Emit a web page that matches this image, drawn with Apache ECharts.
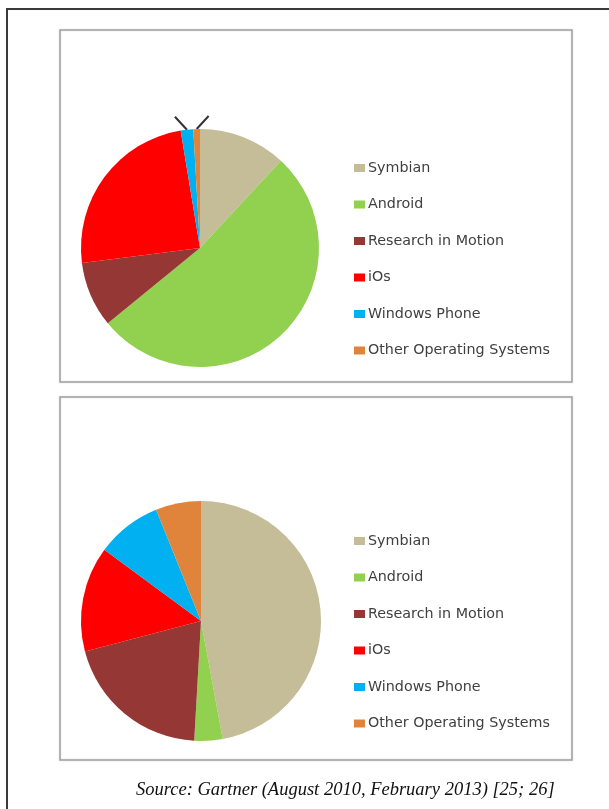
<!DOCTYPE html>
<html>
<head>
<meta charset="utf-8">
<script src="https://cdn.jsdelivr.net/npm/echarts@6/dist/echarts.min.js"></script>
<style>
  html, body { margin: 0; padding: 0; background: #fff; }
  #main { width: 609px; height: 809px; }
</style>
</head>
<body>
<div id="main"></div>
<script>
// categories, same order in both pies
var osNames = ['Symbian', 'Android', 'Research in Motion', 'iOs', 'Windows Phone', 'Other Operating Systems'];
var osColors = ['#c4bd97', '#92d050', '#953735', '#ff0000', '#00b0f0', '#e0843c'];

// shares (percent)
var topShares = [11.9, 52.2, 8.9, 24.4, 1.7, 0.9];
var bottomShares = [47.1, 3.8, 20.0, 14.2, 8.8, 6.1];

var sourceText = 'Source: Gartner (August 2010, February 2013) [25; 26]';

var chart = echarts.init(document.getElementById('main'), null, { renderer: 'canvas' });

function buildData(values, smallLines) {
  return values.map(function (v, i) {
    var item = { name: osNames[i], value: v };
    // the two tiny slices on top get a short leader line, no text
    if (smallLines && v < 2) {
      item.label = { show: true, formatter: ' ', position: 'outside' };
      item.labelLine = { show: true, length: 12, length2: 0, lineStyle: { color: '#333', width: 2 } };
    }
    return item;
  });
}

function legendFor(top) {
  return {
    orient: 'vertical',
    left: 349,
    top: top,
    itemWidth: 11,
    itemHeight: 8,
    itemGap: 22.5,
    icon: 'rect',
    selectedMode: false,
    data: osNames,
    textStyle: { color: '#404040', fontSize: 14.3, fontFamily: 'DejaVu Sans', padding: [0, 0, 0, -2] }
  };
}

var option = {
  animation: false,
  color: osColors,
  legend: [legendFor(156), legendFor(529)],
  title: {
    text: sourceText,
    left: 131,
    top: 776,
    textStyle: { fontFamily: 'Liberation Serif', fontStyle: 'italic', fontWeight: 'normal', fontSize: 18.5, color: '#111' }
  },
  graphic: [
    { type: 'rect', shape: { x: 7, y: 9, width: 640, height: 840 }, style: { fill: 'none', stroke: '#3a3a3a', lineWidth: 2 }, z: 0 },
    { type: 'rect', shape: { x: 60, y: 30, width: 512, height: 352 }, style: { fill: 'none', stroke: '#a0a0a0', lineWidth: 1.5, shadowBlur: 2, shadowColor: 'rgba(0,0,0,0.15)' }, z: 0 },
    { type: 'rect', shape: { x: 60, y: 397, width: 512, height: 363 }, style: { fill: 'none', stroke: '#a0a0a0', lineWidth: 1.5, shadowBlur: 2, shadowColor: 'rgba(0,0,0,0.15)' }, z: 0 }
  ],
  series: [
    {
      name: 'top',
      type: 'pie',
      center: [200, 248],
      radius: 119,
      startAngle: 90,
      clockwise: true,
      avoidLabelOverlap: false,
      label: { show: false },
      labelLine: { show: false },
      // bend the two leader lines outward like a V
      labelLayout: function (p) {
        if (!p.labelLinePoints) return {};
        var s = p.labelLinePoints[0];
        var dir = p.dataIndex === 4 ? -1 : 1;
        return {
          labelLinePoints: [[s[0], s[1]], [s[0] + dir * 6, s[1] - 6.5], [s[0] + dir * 12, s[1] - 13]]
        };
      },
      itemStyle: { borderWidth: 0 },
      emphasis: { disabled: true },
      data: buildData(topShares, true)
    },
    {
      name: 'bottom',
      type: 'pie',
      center: [201, 621],
      radius: 120,
      startAngle: 90,
      clockwise: true,
      label: { show: false },
      labelLine: { show: false },
      itemStyle: { borderWidth: 0 },
      emphasis: { disabled: true },
      data: buildData(bottomShares, false)
    }
  ]
};

chart.setOption(option);
</script>
</body>
</html>
